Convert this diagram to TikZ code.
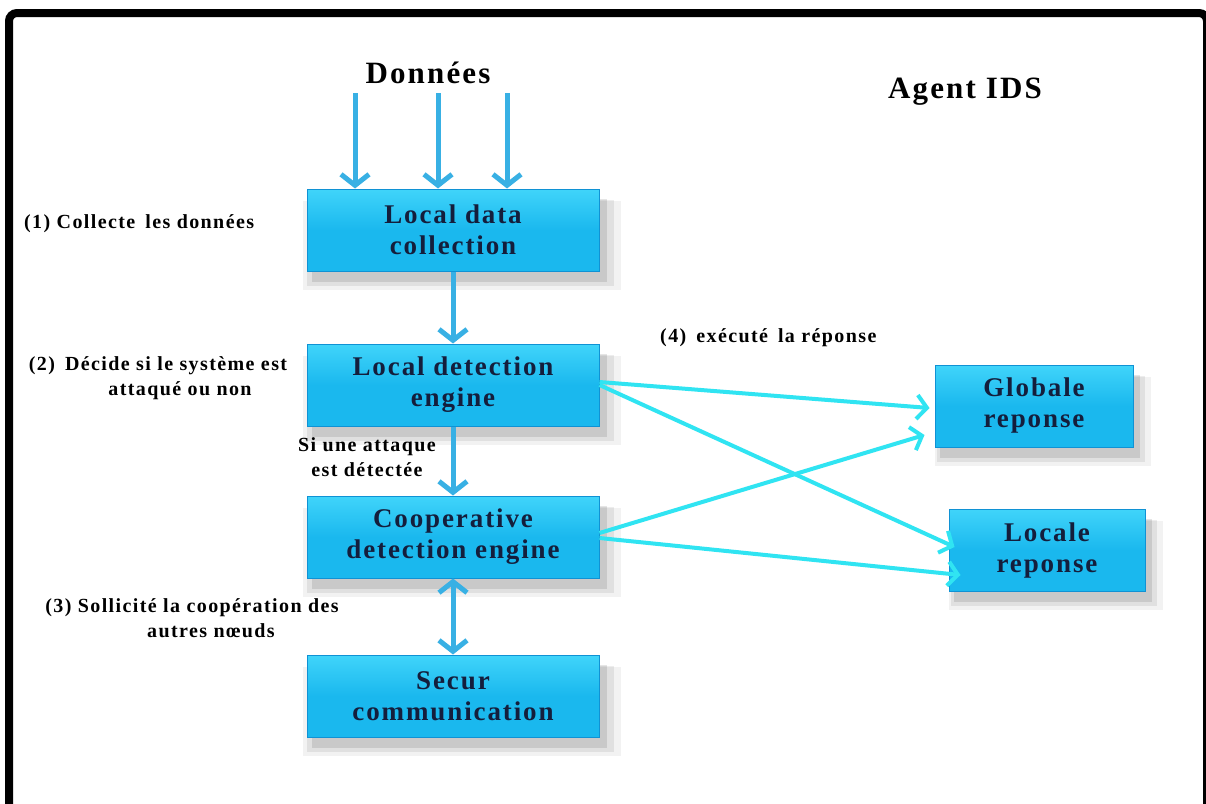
\documentclass[tikz,border=0pt]{standalone}
\usepackage{fontspec}
\setmainfont{Liberation Serif}[LetterSpace=7]
\usetikzlibrary{arrows.meta, calc, shadows}
\definecolor{boxcyan}{RGB}{26,184,238}
\definecolor{boxtop}{RGB}{64,212,250}
\definecolor{boxdark}{RGB}{16,146,212}
\definecolor{navy}{RGB}{20,30,60}
\definecolor{inblue}{RGB}{56,176,228}
\definecolor{outcyan}{RGB}{48,228,242}
\tikzset{
  flou/.style={
    general shadow={shadow xshift=8pt, shadow yshift=-14pt, shadow scale=1.09, fill=black, opacity=.05},
    general shadow={shadow xshift=7pt, shadow yshift=-12pt, shadow scale=1.05, fill=black, opacity=.07},
    general shadow={shadow xshift=6pt, shadow yshift=-10pt, shadow scale=1.01, fill=black, opacity=.10}},
  bloc/.style={flou, shading=axis, top color=boxtop, bottom color=boxcyan, middle color=boxcyan,
    draw=boxdark, line width=1pt, minimum width=292pt, minimum height=82pt, align=center,
    text=navy, font=\fontsize{27}{31}\selectfont\bfseries},
  lab/.style={font=\fontsize{20}{25}\selectfont\bfseries, text=black, align=center, inner sep=0pt},
  titre/.style={font=\fontsize{31}{36}\selectfont\bfseries, anchor=base},
  inarr/.style={draw=inblue, line width=5pt, -{Straight Barb[length=11pt,width=28pt]}},
  outarr/.style={draw=outcyan, line width=4pt, -{Straight Barb[length=10pt,width=24pt]}},
}
\begin{document}
\begin{tikzpicture}[x=1pt, y=-1pt]
  \useasboundingbox (0,0) rectangle (1206,803);
  \fill[white] (0,0) rectangle (1206,803);
  \draw[line width=8pt, rounded corners=8pt] (9,812) -- (9,13) -- (1207,13) -- (1207,812);

  \node[titre] (donnees) at (428,83) {Données};
  \node[titre] (agent) at (965,98) {Agent IDS};

  \node[bloc] (ldc) at (453,230) {Local data\\collection};
  \node[bloc] (lde) at (453,385) {Local detection\\engine};
  \node[bloc] (cde) at (453,537) {Cooperative\\detection engine};
  \node[bloc] (sec) at (453,696) {Secur\\communication};
  \node[bloc, minimum width=198pt] (glob) at (1034,406) {Globale\\reponse};
  \node[bloc, minimum width=196pt] (loc) at (1047,550) {Locale\\reponse};

  \node[lab, anchor=west] (lab1) at (24,224) {(1) Collecte\enspace les données};
  \node[lab] (lab2) at (158,378) {(2)\enspace Décide si le système est\\\hspace*{44pt}attaqué ou non};
  \node[lab] (si) at (367,457) {Si une attaque\\est détectée};
  \node[lab] (lab3) at (192,618) {(3) Sollicité la coopération des\\\hspace*{38pt}autres nœuds};
  \node[lab, anchor=west] (lab4) at (660,338) {(4)\enspace exécuté\enspace la réponse};

  \coordinate (d1) at (355,93);
  \coordinate (d2) at (438,93);
  \coordinate (d3) at (507,93);
  \foreach \d in {d1,d2,d3}
    \draw[inarr] (\d) -- (\d |- ldc.north);
  \draw[inarr] (ldc) -- (lde);
  \draw[inarr] (lde) -- (cde);
  \draw[inarr, {Straight Barb[length=11pt,width=28pt]}-{Straight Barb[length=11pt,width=28pt]}] (cde) -- (sec);

  \draw[outarr] ($(lde.east)+(0,-3)$) -- ($(glob.west)+(-5,2)$);
  \draw[outarr] (lde.east) -- ($(loc.west)+(6,-3)$);
  \draw[outarr] ($(cde.east)+(0,-4)$) -- ($(glob.west)+(-10,29)$);
  \draw[outarr] ($(cde.east)+(0,1)$) -- ($(loc.west)+(12,25)$);
\end{tikzpicture}
\end{document}
